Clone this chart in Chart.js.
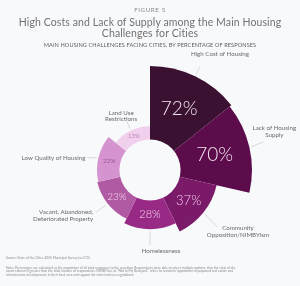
<!DOCTYPE html>
<html>
<head>
<meta charset="utf-8">
<script src="https://cdn.jsdelivr.net/npm/chart.js@4"></script>
<style>
  html, body { margin: 0; padding: 0; background: #f8f9fb; }
  #wrap { position: relative; width: 300px; height: 286px; overflow: hidden; font-family: Lato, sans-serif; }
  #chart { position: absolute; left: 0; top: 0; }
  .hd { position: absolute; left: 0; width: 300px; text-align: center; white-space: nowrap; }
  #fig { top: 6px; font-size: 6.2px; line-height: 8px; letter-spacing: 0.6px; color: #8a8a8a; }
  #title { top: 16.5px; font-size: 10.5px; line-height: 11px; color: #727272; letter-spacing: 0.1px; }
  #sub { top: 40.5px; font-size: 5.6px; line-height: 7px; color: #606060; letter-spacing: 0.1px; }
  .ft { position: absolute; left: 6px; width: 290px; font-size: 3.3px; line-height: 3.4px; color: #8c8c8c; white-space: nowrap; }
  #src { top: 257px; }
  #note { top: 266.8px; }
</style>
</head>
<body>
<div id="wrap">
  <canvas id="chart" width="300" height="286"></canvas>
  <div class="hd" id="fig">FIGURE 5</div>
  <div class="hd" id="title">High Costs and Lack of Supply among the Main Housing<br>Challenges for Cities</div>
  <div class="hd" id="sub">MAIN HOUSING CHALLENGES FACING CITIES, BY PERCENTAGE OF RESPONSES</div>
  <div class="ft" id="src">Source: State of the Cities 2025 Municipal Survey (n=172).</div>
  <div class="ft" id="note">Note: Percentages are calculated as the proportion of all total responses to the question. Respondents were able to select multiple options, thus the total of the<br>count column is greater than the total number of respondents. NIMBYism, or "Not In My Backyard," refers to residents' opposition to proposed real estate and<br>infrastructure developments in their local area and support for strict land use regulations.</div>
</div>
<script>
/* Main housing challenges facing cities — share of responses (%) */
const categories = [
  ['High Cost of Housing'],
  ['Lack of Housing', 'Supply'],
  ['Community', 'Opposition/NIMBYism'],
  ['Homelessness'],
  ['Vacant, Abandoned,', 'Deteriorated Property'],
  ['Low Quality of Housing'],
  ['Land Use', 'Restrictions'],
];
const shares = [72, 70, 37, 28, 23, 22, 13];

/* ── Styling ── */
const BG = '#f8f9fb';
const SLICE_COLORS = ['#3b1131', '#5c0c4b', '#7b1a69', '#982a86', '#b15aa4', '#d594cf', '#f0d0ec'];
const VALUE_STYLE = [
  { size: 19, color: '#f4e6f0' },
  { size: 19, color: '#f4e6f0' },
  { size: 13, color: '#f3c6ea' },
  { size: 11, color: '#f6d6ef' },
  { size: 10, color: '#f7d9f1' },
  { size: 6.5, color: '#6e2c66' },
  { size: 6, color: '#9a4f92' },
];
// leader: start gap from arc edge, line offset (dx,dy), text offset from line end (tx,ty)
const CALLOUTS = [
  { gap: 2, dx: 4, dy: -8, tx: 20, ty: -12, align: 'center' },
  { gap: 2, dx: 12, dy: -5, tx: 11, ty: -14, align: 'center' },
  { gap: 2, dx: 12, dy: 13, tx: 21, ty: 1, align: 'center' },
  { gap: 2, dx: 0, dy: 14, tx: 11, ty: 6, align: 'center' },
  { gap: 2, dx: -10, dy: 7, tx: -3, ty: 0, align: 'right' },
  { gap: 2, dx: -9, dy: 0, tx: -2, ty: 0, align: 'right' },
  { gap: 2, dx: -3, dy: -7, tx: -6, ty: -9, align: 'center' },
];

/* draws the donut hole, the value labels and the callouts */
const calloutPlugin = {
  id: 'callouts',
  afterDatasetsDraw(chart) {
    const ctx = chart.ctx;
    const scale = chart.scales.r;
    const cx = scale.xCenter, cy = scale.yCenter;
    const hole = scale.getDistanceFromCenterForValue(0);
    ctx.save();
    ctx.fillStyle = BG;
    ctx.beginPath();
    ctx.arc(cx, cy, hole, 0, Math.PI * 2);
    ctx.fill();

    chart.getDatasetMeta(0).data.forEach((arc, i) => {
      const p = arc.getProps(['startAngle', 'endAngle', 'outerRadius'], true);
      const mid = (p.startAngle + p.endAngle) / 2;
      const cos = Math.cos(mid), sin = Math.sin(mid);

      // value inside the slice
      const rm = (hole + p.outerRadius) / 2;
      const vs = VALUE_STYLE[i];
      ctx.font = `300 ${vs.size}px Lato, sans-serif`;
      ctx.fillStyle = vs.color;
      ctx.textAlign = 'center';
      ctx.textBaseline = 'middle';
      ctx.fillText(shares[i] + '%', cx + cos * rm, cy + sin * rm);

      // callout
      const c = CALLOUTS[i];
      const x0 = cx + cos * (p.outerRadius + c.gap);
      const y0 = cy + sin * (p.outerRadius + c.gap);
      const x1 = x0 + c.dx, y1 = y0 + c.dy;
      ctx.strokeStyle = '#c4c4c8';
      ctx.lineWidth = 0.6;
      ctx.beginPath();
      ctx.moveTo(x0, y0);
      ctx.lineTo(x1, y1);
      ctx.stroke();

      ctx.font = '400 6.2px Lato, sans-serif';
      ctx.fillStyle = '#6a6a6a';
      ctx.textAlign = c.align;
      categories[i].forEach((line, k) => {
        ctx.fillText(line, x1 + c.tx, y1 + c.ty + k * 6.8);
      });
    });
    ctx.restore();
  },
};

new Chart(document.getElementById('chart'), {
  type: 'polarArea',
  data: {
    labels: categories,
    datasets: [{
      data: shares,
      backgroundColor: SLICE_COLORS,
      borderWidth: 0,
    }],
  },
  options: {
    responsive: false,
    animation: false,
    layout: { padding: { left: 46, right: 46, top: 66, bottom: 12 } },
    scales: {
      r: {
        min: -30,
        max: 72,
        startAngle: 0,
        grid: { display: false },
        angleLines: { display: false },
        ticks: { display: false },
        pointLabels: { display: false },
      },
    },
    plugins: {
      legend: { display: false },
      tooltip: { enabled: false },
    },
  },
  plugins: [calloutPlugin],
});
</script>
</body>
</html>
